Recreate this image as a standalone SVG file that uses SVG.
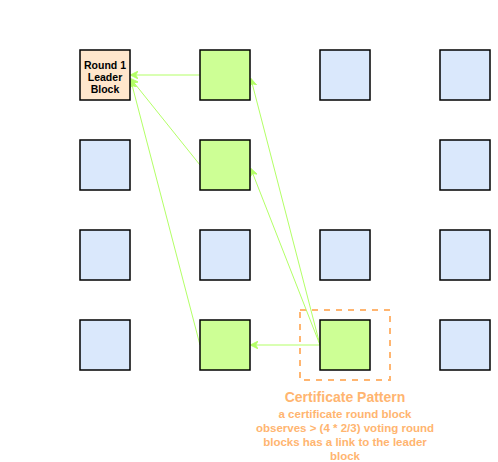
<svg xmlns="http://www.w3.org/2000/svg" width="498" height="462" viewBox="0 0 498 462">
<defs>
<style>
.blue{fill:#dae8fc;stroke:#000;stroke-width:1.5}
.green{fill:#cdff95;stroke:#000;stroke-width:1.5}
.leader{fill:#ffe6cc;stroke:#000;stroke-width:1.5}
.edge{stroke:#b3ff66;stroke-width:1;fill:none;marker-end:url(#ah)}
.lbl{font-family:"Liberation Sans",Arial,sans-serif;font-weight:bold;text-anchor:middle}
.cert{fill:#ffb570}
</style>
<marker id="ah" viewBox="0 0 10 10" refX="9" refY="5" markerWidth="8" markerHeight="8" markerUnits="userSpaceOnUse" orient="auto">
<path d="M0,0 L10,5 L0,10 L3,5 Z" fill="#b3ff66" stroke="#b3ff66"/>
</marker>
</defs>
<rect width="498" height="462" fill="#fff"/>
<g id="connectors">
<line class="edge" x1="200" y1="75" x2="131" y2="75"/>
<line class="edge" x1="200" y1="165" x2="131" y2="79"/>
<line class="edge" x1="200" y1="345" x2="131" y2="81"/>
<line class="edge" x1="320" y1="345" x2="251" y2="345"/>
<line class="edge" x1="320" y1="345" x2="251" y2="79"/>
<line class="edge" x1="320" y1="345" x2="251" y2="169"/>
</g>
<g id="leader"><rect class="leader" x="80" y="50" width="50" height="50"/>
<text class="lbl" font-size="10.5" fill="#000"><tspan x="105" y="69">Round 1</tspan><tspan x="105" y="81">Leader</tspan><tspan x="105" y="93">Block</tspan></text></g>
<g id="r1c1"><rect class="green" x="200" y="50" width="50" height="50"/></g>
<g id="r1c2"><rect class="blue" x="320" y="50" width="50" height="50"/></g>
<g id="r1c3"><rect class="blue" x="440" y="50" width="50" height="50"/></g>
<g id="r2c0"><rect class="blue" x="80" y="140" width="50" height="50"/></g>
<g id="r2c1"><rect class="green" x="200" y="140" width="50" height="50"/></g>
<g id="r2c3"><rect class="blue" x="440" y="140" width="50" height="50"/></g>
<g id="r3c0"><rect class="blue" x="80" y="230" width="50" height="50"/></g>
<g id="r3c1"><rect class="blue" x="200" y="230" width="50" height="50"/></g>
<g id="r3c2"><rect class="blue" x="320" y="230" width="50" height="50"/></g>
<g id="r3c3"><rect class="blue" x="440" y="230" width="50" height="50"/></g>
<g id="r4c0"><rect class="blue" x="80" y="320" width="50" height="50"/></g>
<g id="r4c1"><rect class="green" x="200" y="320" width="50" height="50"/></g>
<g id="r4c2"><rect class="green" x="320" y="320" width="50" height="50"/></g>
<g id="r4c3"><rect class="blue" x="440" y="320" width="50" height="50"/></g>
<g id="certificate">
<rect x="300" y="310" width="90" height="70" fill="none" stroke="#ffb570" stroke-width="2" stroke-dasharray="6 6"/>
<text class="lbl cert" font-size="14" x="345" y="402">Certificate Pattern</text>
<text class="lbl cert" font-size="11.5"><tspan x="345" y="418">a certificate round block</tspan><tspan x="345" y="432">observes &gt; (4 * 2/3) voting round</tspan><tspan x="345" y="446">blocks has a link to the leader</tspan><tspan x="345" y="460">block</tspan></text>
</g>
</svg>
